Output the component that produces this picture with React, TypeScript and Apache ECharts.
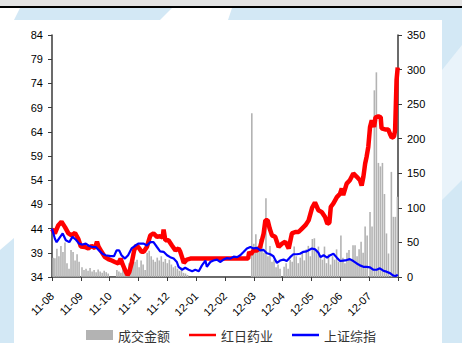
import React, { useEffect, useRef } from "react";
import * as echarts from "echarts";

// x positions are in months since 2011-08-01
const monthLabels = ["11-08", "11-09", "11-10", "11-11", "11-12", "12-01", "12-02", "12-03", "12-04", "12-05", "12-06", "12-07"];

const seriesNames = ["成交金额", "红日药业", "上证综指"];

// 成交金额 (right axis)
const turnover: [number, number][] = [
  [0.04, 28], [0.1, 27], [0.17, 41], [0.24, 30], [0.31, 45], [0.38, 36], [0.45, 50], [0.52, 20], [0.59, 12], [0.66, 39], [0.73, 36], [0.8, 24], [0.87, 33], [0.94, 22],
  [1.04, 14], [1.11, 10], [1.18, 12], [1.25, 9], [1.32, 13], [1.39, 8], [1.46, 10], [1.53, 7], [1.6, 11], [1.67, 8], [1.74, 6], [1.81, 9], [1.88, 7], [1.95, 5],
  [2.25, 10], [2.32, 8], [2.39, 6], [2.46, 12], [2.53, 15], [2.6, 9], [2.67, 20], [2.74, 18], [2.81, 29], [2.88, 22], [2.95, 25],
  [3.02, 14], [3.09, 24], [3.16, 18], [3.23, 10], [3.3, 35], [3.37, 38], [3.44, 30], [3.51, 25], [3.58, 22], [3.65, 28], [3.72, 24], [3.79, 30], [3.86, 22], [3.93, 26],
  [4.0, 20], [4.07, 25], [4.14, 18], [4.21, 14], [4.28, 16], [4.35, 12], [4.42, 9], [4.49, 14], [4.56, 6], [4.63, 5], [4.7, 3],
  [6.93, 237], [7.0, 48], [7.07, 62], [7.14, 40], [7.21, 55], [7.28, 48], [7.35, 35], [7.42, 114], [7.49, 30], [7.56, 45], [7.63, 22], [7.7, 25], [7.77, 14], [7.84, 18], [7.91, 12],
  [8.05, 15], [8.12, 20], [8.19, 12], [8.26, 25], [8.33, 22], [8.4, 44], [8.47, 30], [8.54, 20], [8.61, 28], [8.68, 35], [8.75, 24], [8.82, 40], [8.89, 45], [8.96, 30],
  [9.03, 55], [9.1, 56], [9.17, 40], [9.24, 44], [9.31, 30], [9.38, 25], [9.45, 44], [9.52, 20], [9.59, 33], [9.66, 18], [9.73, 30], [9.8, 25], [9.87, 40], [9.94, 22],
  [10.02, 60], [10.09, 28], [10.16, 20], [10.23, 35], [10.3, 39], [10.37, 25], [10.44, 46], [10.51, 46], [10.58, 30], [10.65, 40], [10.72, 51], [10.79, 35], [10.86, 73], [10.93, 60],
  [11.03, 94], [11.1, 73], [11.18, 270], [11.25, 296], [11.32, 165], [11.39, 160], [11.46, 165], [11.53, 120], [11.6, 63], [11.67, 34], [11.77, 152], [11.84, 87], [11.91, 87], [11.98, 116],
];

// 红日药业 (left axis)
const hongri: [number, number][] = [
  [0, 43.9], [0.1, 43], [0.22, 44.7], [0.33, 45.4], [0.45, 44.3], [0.57, 43], [0.68, 42.6], [0.8, 43.1], [0.91, 41.9],
  [1.0, 40.3], [1.14, 40.2], [1.26, 39.9], [1.37, 40.4], [1.49, 40], [1.56, 41.3], [1.61, 40.3], [1.72, 39.2], [1.84, 38.1], [1.95, 37.7],
  [2.07, 37.4], [2.18, 37.1], [2.3, 36.8], [2.38, 37.8], [2.45, 36.6], [2.55, 35.2], [2.62, 34.4], [2.68, 35], [2.76, 36.8], [2.85, 39.5], [2.92, 40.5], [2.99, 40.2],
  [3.11, 39.2], [3.18, 39.2], [3.29, 40.2], [3.41, 42.6], [3.52, 43], [3.64, 42.3], [3.75, 42.4], [3.84, 42.2], [3.87, 43.8], [3.93, 41.6],
  [4.04, 41.6], [4.16, 40.5], [4.28, 39.5], [4.39, 39.9], [4.45, 39.2], [4.51, 38.1], [4.57, 36.9], [4.68, 37.6], [4.8, 37.8],
  [6.8, 37.8], [6.84, 39.2], [6.9, 38.7], [6.99, 39.5], [7.11, 39.5], [7.22, 40.2], [7.34, 43], [7.4, 45.7], [7.48, 45.7], [7.55, 44], [7.63, 42.6], [7.74, 42.3], [7.86, 40.2], [7.98, 40.9],
  [8.09, 41.3], [8.21, 39.9], [8.32, 43], [8.44, 43.3], [8.55, 43.3], [8.67, 44], [8.79, 44.7], [8.9, 45.7],
  [9.02, 48.3], [9.12, 49.4], [9.24, 47.8], [9.36, 47.4], [9.47, 46.4], [9.55, 45], [9.62, 45.2], [9.67, 48.5], [9.76, 49.2], [9.88, 50.5], [9.99, 51.2],
  [10.05, 52.3], [10.1, 50.9], [10.22, 53.3], [10.33, 54], [10.45, 55.4], [10.57, 54.7], [10.68, 54], [10.74, 52.9], [10.8, 54.7], [10.86, 57.4], [10.91, 58.8], [10.97, 60.9],
  [11.03, 65], [11.09, 66.4], [11.17, 65], [11.22, 67], [11.32, 67.2], [11.4, 67], [11.43, 64.7], [11.55, 64.5], [11.66, 64.5], [11.72, 63.6], [11.78, 62.8], [11.86, 63], [11.9, 64.3], [11.95, 74.7], [11.99, 77.3],
];

// 上证综指 (rescaled onto left axis)
const shIndex: [number, number][] = [
  [0, 44], [0.1, 41.9], [0.16, 41.2], [0.26, 42.1], [0.37, 43], [0.48, 41.6], [0.6, 41.2], [0.71, 42.3], [0.83, 41.7], [0.94, 40.9],
  [1.06, 40.7], [1.17, 40.9], [1.29, 40.4], [1.4, 40.2], [1.52, 40.2], [1.63, 39.5], [1.75, 38.8], [1.86, 38.5],
  [2.03, 38.3], [2.15, 38.3], [2.24, 39.5], [2.33, 39.5], [2.41, 38.5], [2.53, 37.8], [2.64, 38.5], [2.76, 39.9], [2.87, 40.4], [2.99, 40.9],
  [3.1, 40.9], [3.18, 40.9], [3.29, 40.5], [3.41, 41.2], [3.52, 41.2], [3.64, 40.2], [3.75, 39.3], [3.87, 39.2], [3.99, 38.5],
  [4.1, 38.1], [4.22, 37.8], [4.33, 37.1], [4.39, 36.1], [4.51, 35.5], [4.62, 35.9], [4.74, 35.5], [4.86, 35.2], [4.97, 35.5],
  [5.09, 35.2], [5.2, 36.4], [5.32, 37.4], [5.37, 36.1], [5.49, 37.1], [5.6, 37.4], [5.72, 37.6], [5.83, 37.1], [5.95, 37.6],
  [6.07, 37.9], [6.18, 37.8], [6.3, 38.2], [6.42, 38.1], [6.53, 38.5], [6.65, 39.2], [6.76, 39.9], [6.88, 40.2], [6.99, 39.9],
  [7.11, 40], [7.22, 39.5], [7.34, 39.6], [7.45, 38.9], [7.57, 38.7], [7.68, 38.3], [7.8, 36.9], [7.91, 37.4],
  [8.03, 37.6], [8.14, 37.3], [8.26, 38.1], [8.37, 38.7], [8.49, 38.7], [8.6, 38.8], [8.72, 39.2], [8.83, 39.3],
  [9.01, 39.9], [9.13, 39.7], [9.24, 39.0], [9.31, 38.1], [9.42, 38.5], [9.54, 38], [9.65, 38.5], [9.76, 38.8], [9.88, 38], [9.99, 37.3],
  [10.1, 37.4], [10.22, 37.5], [10.33, 37.7], [10.45, 37.3], [10.57, 36.8], [10.68, 36.4], [10.8, 36.1], [10.91, 36.1],
  [11.03, 36], [11.14, 35.5], [11.26, 35.5], [11.37, 35.8], [11.49, 35.3], [11.6, 35.1], [11.72, 34.8], [11.84, 34.3], [11.93, 34.2], [11.99, 34.5],
];

const LIGHT_BLUE = "#D3E8F5";
const axisColor = "#3a3a3a";
const labelFont = "Liberation Sans, Arial, sans-serif";
const lineIcon = "path://M0,0 L27,0 L27,2.5 L0,2.5 Z";

export default function App() {
  const ref = useRef<HTMLDivElement>(null);

  useEffect(() => {
    if (!ref.current) return;
    const chart = echarts.init(ref.current, undefined, { renderer: "svg" });
    const axisCommon = {
      axisLine: { show: true, lineStyle: { color: axisColor, width: 1.5 } },
      axisTick: { show: true, inside: false, length: 4, lineStyle: { color: axisColor, width: 1 } },
      splitLine: { show: false },
    };
    chart.setOption({
      animation: false,
      backgroundColor: "#ffffff",
      graphic: [
        { type: "rect", z: -10, shape: { x: 0, y: 0, width: 462, height: 6 }, style: { fill: "#E3E3E3" } },
        { type: "rect", z: -10, shape: { x: 0, y: 6, width: 462, height: 2 }, style: { fill: "#000000" } },
        { type: "polygon", z: -10, shape: { points: [[20, 8], [172, 8], [160, 20], [14, 20]] }, style: { fill: LIGHT_BLUE } },
        { type: "polygon", z: -10, shape: { points: [[232, 8], [462, 8], [462, 343], [442, 343], [442, 20], [228, 20]] }, style: { fill: LIGHT_BLUE } },
        { type: "polygon", z: -9, shape: { points: [[442, 70], [462, 45], [462, 180], [442, 200]] }, style: { fill: "#E9F3FA" } },
        { type: "polygon", z: -10, shape: { points: [[0, 250], [14, 238], [14, 343], [0, 343]] }, style: { fill: LIGHT_BLUE } },
      ],
      grid: { left: 52, right: 64, top: 35, bottom: 66 },
      legend: {
        left: "center",
        top: 328,
        padding: 0,
        itemWidth: 27,
        itemHeight: 10,
        itemGap: 19,
        textStyle: { fontSize: 13, color: "#333", fontFamily: "Noto Sans CJK SC", lineHeight: 14 },
        data: [
          { name: seriesNames[0], icon: "rect" },
          { name: seriesNames[1], icon: lineIcon },
          { name: seriesNames[2], icon: lineIcon },
        ],
      },
      xAxis: {
        type: "value",
        min: 0,
        max: 12,
        interval: 1,
        ...axisCommon,
        axisLabel: {
          rotate: 45,
          margin: 17,
          fontSize: 11,
          color: "#000",
          fontFamily: labelFont,
          formatter: (v: number) => monthLabels[Math.round(v)] ?? "",
        },
      },
      yAxis: [
        {
          type: "value",
          min: 34,
          max: 84,
          interval: 5,
          position: "left",
          ...axisCommon,
          axisLabel: { fontSize: 11, color: "#000", fontFamily: labelFont, margin: 9 },
        },
        {
          type: "value",
          min: 0,
          max: 350,
          interval: 50,
          position: "right",
          ...axisCommon,
          axisLabel: { fontSize: 11, color: "#000", fontFamily: labelFont, margin: 9 },
        },
      ],
      series: [
        {
          name: seriesNames[0],
          type: "bar",
          yAxisIndex: 1,
          data: turnover,
          barWidth: 1.6,
          itemStyle: { color: "#B3B3B3" },
          z: 1,
        },
        {
          name: seriesNames[1],
          type: "line",
          yAxisIndex: 0,
          data: hongri,
          symbol: "none",
          lineStyle: { color: "#FF0000", width: 4.5 },
          itemStyle: { color: "#FF0000" },
          z: 3,
        },
        {
          name: seriesNames[2],
          type: "line",
          yAxisIndex: 0,
          data: shIndex,
          symbol: "none",
          lineStyle: { color: "#0000FF", width: 2.2 },
          itemStyle: { color: "#0000FF" },
          z: 4,
        },
      ],
    });
    return () => chart.dispose();
  }, []);

  return <div ref={ref} style={{ position: "fixed", left: 0, top: 0, width: 462, height: 343 }} />;
}
